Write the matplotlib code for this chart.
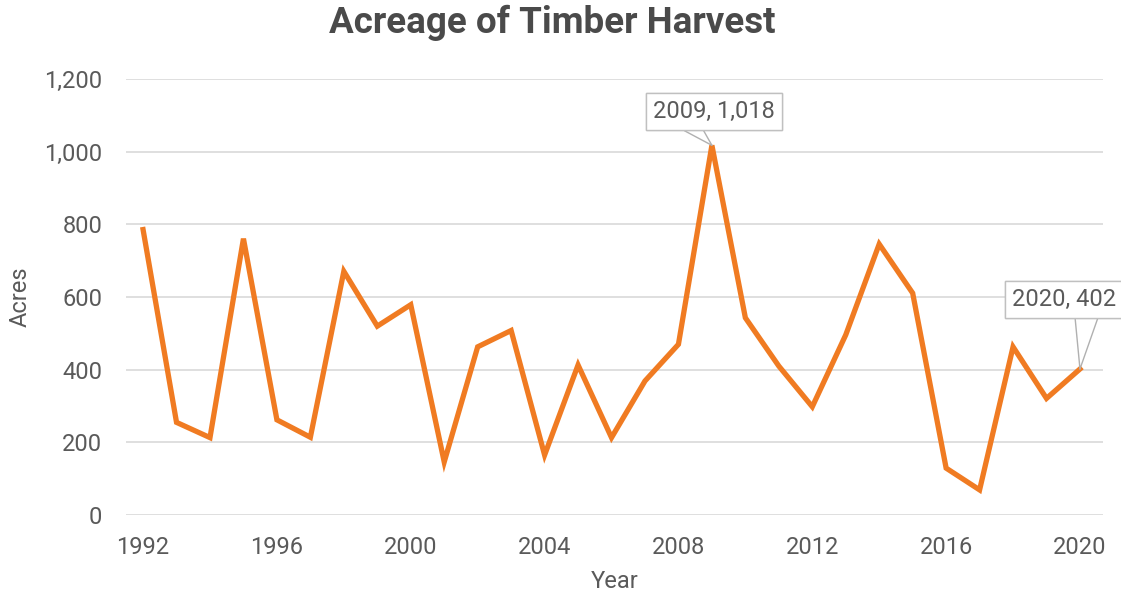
import matplotlib.pyplot as plt
from matplotlib.ticker import FuncFormatter

years = list(range(1992, 2021))
acres = [786, 255, 213, 761, 262, 214, 671, 520, 579, 146,
         463, 508, 165, 413, 213, 369, 470, 1018, 543, 410,
         298, 496, 746, 611, 129, 69, 463, 321, 402]
xticks = [1992, 1996, 2000, 2004, 2008, 2012, 2016, 2020]
yticks = [0, 200, 400, 600, 800, 1000, 1200]
callouts = [(2009, "2009, 1,018"), (2020, "2020, 402")]

plt.rcParams['font.family'] = ['Roboto', 'DejaVu Sans']
textColor = "#5a5a5a"
fs = 17

fig = plt.figure(figsize=(11.21, 5.96), dpi=100)
ax = fig.add_axes([0.1124, 0.136, 0.8716, 0.731])

ax.plot(years, acres, color="#f07b22", linewidth=3.8, solid_joinstyle="miter")

ax.set_xlim(1991.49, 2020.69)
ax.set_ylim(0, 1200)
ax.set_xticks(xticks)
ax.set_yticks(yticks)
ax.yaxis.set_major_formatter(FuncFormatter(lambda v, p: "{:,.0f}".format(v)))
ax.tick_params(axis="both", length=0, labelsize=fs, labelcolor=textColor)
ax.tick_params(axis="y", pad=17)
ax.tick_params(axis="x", pad=15)
ax.grid(axis="y", color="#d9d9d9", linewidth=1.2)
ax.set_axisbelow(True)
for s in ax.spines.values():
    s.set_visible(False)

ax.set_xlabel("Year", fontsize=fs, color=textColor, labelpad=8)
ax.set_ylabel("Acres", fontsize=fs, color=textColor, labelpad=9)
fig.text(552 / 1121, 1 - 23 / 596, "Acreage of Timber Harvest", ha="center",
         va="center", fontsize=26.5, fontweight="bold", color="#4a4a4a")

boxStyle = dict(boxstyle="square,pad=0.3", fc="white", ec="#c0c0c0", lw=1)


def callout(year, label, dx, dy, ha, relposList):
    val = acres[years.index(year)]
    for rp in relposList:
        ax.annotate(label, xy=(year, val), xytext=(dx, dy), textcoords="offset points",
                    ha=ha, va="bottom", fontsize=fs, color=textColor, bbox=boxStyle,
                    annotation_clip=False,
                    arrowprops=dict(arrowstyle="-", color="#b0b0b0", lw=1,
                                    shrinkA=0, shrinkB=0, relpos=rp))


callout(callouts[0][0], callouts[0][1], 1.5, 16, "center", [(0.14, 0), (0.38, 0)])
callout(callouts[1][0], callouts[1][1], -49, 42, "left", [(0.6, 0), (0.85, 0)])

fig.savefig("out.png", dpi=100)
